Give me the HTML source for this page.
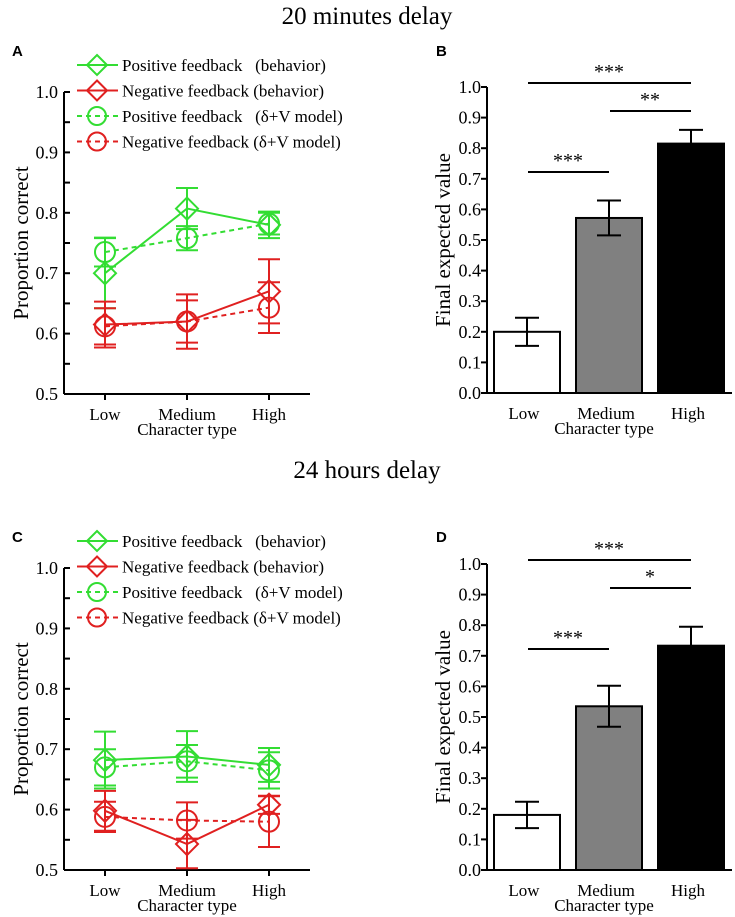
<!DOCTYPE html>
<html><head><meta charset="utf-8"><style>
body{margin:0;background:#fff;}
svg{display:block;font-family:"Liberation Serif",serif;}
.lbl{font-family:"Liberation Sans",sans-serif;font-weight:bold;font-size:15px;}
</style></head><body>
<svg id="s" width="735" height="917">
<text x="367" y="24" text-anchor="middle" font-size="25">20 minutes delay</text>
<text x="367" y="478" text-anchor="middle" font-size="25">24 hours delay</text>
<text class="lbl" x="12" y="56">A</text>
<text class="lbl" x="436" y="56">B</text>
<text class="lbl" x="12" y="542">C</text>
<text class="lbl" x="436" y="542">D</text>
</svg>
<script>
const categories=["Low","Medium","High"];
const lineTicks=["0.5","0.6","0.7","0.8","0.9","1.0"];
const barTicks=["0.0","0.1","0.2","0.3","0.4","0.5","0.6","0.7","0.8","0.9","1.0"];
const A_posBeh=[0.70,0.807,0.78], A_posBehErr=[0.058,0.034,0.022];
const A_negBeh=[0.615,0.62,0.67], A_negBehErr=[0.038,0.045,0.053];
const A_posMod=[0.735,0.758,0.782], A_posModErr=[0.024,0.02,0.018];
const A_negMod=[0.612,0.62,0.643], A_negModErr=[0.03,0.035,0.042];
const C_posBeh=[0.682,0.688,0.674], C_posBehErr=[0.047,0.042,0.028];
const C_negBeh=[0.598,0.543,0.608], C_negBehErr=[0.033,0.04,0.015];
const C_posMod=[0.67,0.68,0.665], C_posModErr=[0.03,0.027,0.03];
const C_negMod=[0.588,0.582,0.58], C_negModErr=[0.025,0.03,0.042];
const B_vals=[0.20,0.572,0.815], B_err=[0.046,0.057,0.045];
const D_vals=[0.18,0.535,0.733], D_err=[0.043,0.067,0.062];
const B_sig=["***","**","***"], D_sig=["***","*","***"];
const barFills=["#ffffff","#808080","#000000"];

const NS="http://www.w3.org/2000/svg", S=document.getElementById('s');
function el(t,a,p){const e=document.createElementNS(NS,t);for(const k in a)e.setAttribute(k,a[k]);(p||S).appendChild(e);return e;}

function linePanel(top,series,tag){
  const x0=64,x1=310,yTop=top,yBot=top+302;
  const y=v=>yBot-(v-0.5)/0.5*(yBot-yTop);
  const xs=i=>105+i*82;
  const g=el('g',{});
  
  el('line',{x1:x0,y1:yTop,x2:x0,y2:yBot,stroke:'#000','stroke-width':2},g);
  el('line',{x1:x0,y1:yBot,x2:x1,y2:yBot,stroke:'#000','stroke-width':2},g);
  for(let i=0;i<=10;i++){const yy=yBot-i*(yBot-yTop)/10;el('line',{x1:x0,y1:yy,x2:x0+6,y2:yy,stroke:'#000','stroke-width':2},g);}
  lineTicks.forEach((t,i)=>{const tx=el('text',{x:x0-6,y:y(0.5+i*0.1)+6,'text-anchor':'end','font-size':18},g);tx.textContent=t;});
  categories.forEach((c,i)=>{el('line',{x1:xs(i),y1:yBot,x2:xs(i),y2:yBot+6,stroke:'#000','stroke-width':2},g);
    const tx=el('text',{x:xs(i),y:yBot+26,'text-anchor':'middle','font-size':17},g);tx.textContent=c;
    });
  const xt=el('text',{x:187,y:yBot+41,'text-anchor':'middle','font-size':17},g);xt.textContent='Character type';
  
  const yt=el('text',{x:0,y:0,'text-anchor':'middle','font-size':21,transform:`translate(28,${(yTop+yBot)/2}) rotate(-90)`},g);yt.textContent='Proportion correct';
  
  series.forEach(s=>{
    const sg=el('g',{},g);
    
    const dash=s.dash?'5,4':'none';
    el('polyline',{points:s.vals.map((v,i)=>xs(i)+','+y(v)).join(' '),fill:'none',stroke:s.col,'stroke-width':2,'stroke-dasharray':dash},sg);
    s.vals.forEach((v,i)=>{const X=xs(i);
      const a=y(v+s.err[i]),b=y(v-s.err[i]);
      el('line',{x1:X,y1:a,x2:X,y2:b,stroke:s.col,'stroke-width':2},sg);
      el('line',{x1:X-11,y1:a,x2:X+11,y2:a,stroke:s.col,'stroke-width':2},sg);
      el('line',{x1:X-11,y1:b,x2:X+11,y2:b,stroke:s.col,'stroke-width':2},sg);
      const Y=y(v);
      if(s.mk==='d')el('polygon',{points:`${X},${Y-11} ${X+11},${Y} ${X},${Y+11} ${X-11},${Y}`,fill:'none',stroke:s.col,'stroke-width':2},sg);
      else el('circle',{cx:X,cy:Y,r:10,fill:'none',stroke:s.col,'stroke-width':2},sg);
    });
  });
  const labels=["Positive feedback   (behavior)","Negative feedback (behavior)","Positive feedback   (δ+V model)","Negative feedback (δ+V model)"];
  series.forEach((s,i)=>{const ly=top-27+i*25.5;
    const lg=el('g',{},g);
    el('line',{x1:77,y1:ly,x2:118,y2:ly,stroke:s.col,'stroke-width':2,'stroke-dasharray':s.dash?'5,4':'none'},lg);
    if(s.mk==='d')el('polygon',{points:`97,${ly-10} 107,${ly} 97,${ly+10} 87,${ly}`,fill:'none',stroke:s.col,'stroke-width':2},lg);
    else el('circle',{cx:97,cy:ly,r:9,fill:'none',stroke:s.col,'stroke-width':2},lg);
    const t=el('text',{x:122,y:ly+6,'font-size':17},lg);t.textContent=labels[i];t.style.whiteSpace='pre';});
}
const G='#33dd33',R='#e02020';
linePanel(92,[{name:'series-positive-behavior',vals:A_posBeh,err:A_posBehErr,col:G,mk:'d'},{name:'series-negative-behavior',vals:A_negBeh,err:A_negBehErr,col:R,mk:'d'},
 {name:'series-positive-model',vals:A_posMod,err:A_posModErr,col:G,mk:'c',dash:1},{name:'series-negative-model',vals:A_negMod,err:A_negModErr,col:R,mk:'c',dash:1}],'a');
linePanel(568,[{name:'series-positive-behavior',vals:C_posBeh,err:C_posBehErr,col:G,mk:'d'},{name:'series-negative-behavior',vals:C_negBeh,err:C_negBehErr,col:R,mk:'d'},
 {name:'series-positive-model',vals:C_posMod,err:C_posModErr,col:G,mk:'c',dash:1},{name:'series-negative-model',vals:C_negMod,err:C_negModErr,col:R,mk:'c',dash:1}],'c');

function barPanel(top,vals,err,sig,tag){
  const x0=487,x1=732,yTop=top,yBot=top+306;
  const y=v=>yBot-v*(yBot-yTop);
  const xc=i=>527+i*82;
  const g=el('g',{});
  vals.forEach((v,i)=>{const r=el('rect',{x:xc(i)-33,y:y(v),width:66,height:yBot-y(v),fill:barFills[i],stroke:'#000','stroke-width':2},g);
    
    const X=xc(i),a=y(v+err[i]),b=y(v-err[i]);
    el('line',{x1:X,y1:a,x2:X,y2:b,stroke:'#000','stroke-width':2},g);
    el('line',{x1:X-12,y1:a,x2:X+12,y2:a,stroke:'#000','stroke-width':2},g);
    el('line',{x1:X-12,y1:b,x2:X+12,y2:b,stroke:'#000','stroke-width':2},g);});
  el('line',{x1:x0,y1:yTop,x2:x0,y2:yBot,stroke:'#000','stroke-width':2},g);
  el('line',{x1:x0,y1:yBot,x2:x1,y2:yBot,stroke:'#000','stroke-width':2},g);
  barTicks.forEach((t,i)=>{const yy=y(i/10);el('line',{x1:x0-6,y1:yy,x2:x0,y2:yy,stroke:'#000','stroke-width':2},g);
    const tx=el('text',{x:x0-6,y:yy+6,'text-anchor':'end','font-size':18},g);tx.textContent=t;});
  categories.forEach((c,i)=>{const tx=el('text',{x:xc(i)-3,y:yBot+26,'text-anchor':'middle','font-size':17},g);tx.textContent=c;
    });
  const xt=el('text',{x:604,y:yBot+41,'text-anchor':'middle','font-size':17},g);xt.textContent='Character type';
  
  const yt=el('text',{x:0,y:0,'text-anchor':'middle','font-size':21,transform:`translate(450,${(yTop+yBot)/2}) rotate(-90)`},g);yt.textContent='Final expected value';
  
  const brk=[[0,2,-4],[1,2,24],[0,1,85]];
  brk.forEach((b,k)=>{const ly=top+b[2];
    const sg=el('g',{},g);
    el('line',{x1:xc(b[0])+1,y1:ly,x2:xc(b[1]),y2:ly,stroke:'#000','stroke-width':2},sg);
    const t=el('text',{x:(xc(b[0])+xc(b[1]))/2,y:ly-5,'text-anchor':'middle','font-size':20},sg);t.textContent=sig[k];});
}
barPanel(87,B_vals,B_err,B_sig,'b');
barPanel(564,D_vals,D_err,D_sig,'d');
</script>
</body></html>
